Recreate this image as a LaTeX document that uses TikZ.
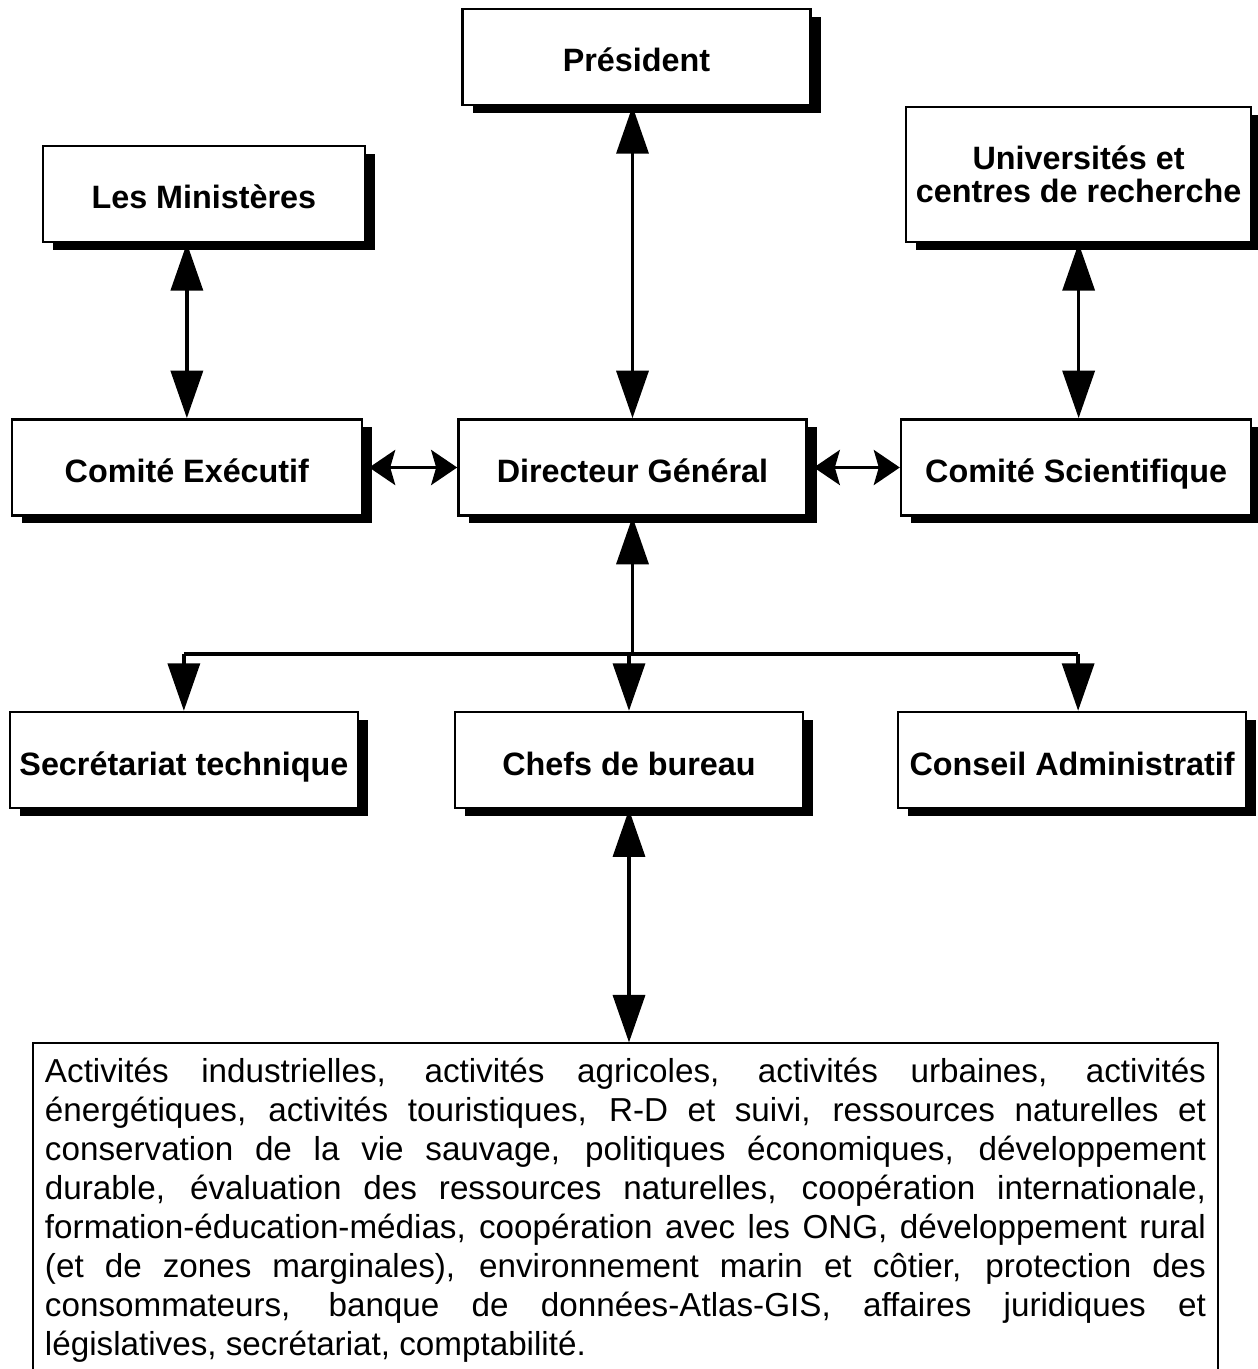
\documentclass[tikz,border=0pt]{standalone}
\usepackage{fontspec}
\setmainfont{Liberation Sans}
\usepackage{tikz}
\usetikzlibrary{arrows.meta, positioning, shadows, calc}

\begin{document}
\begin{tikzpicture}[
    node distance=1.5cm,
    every node/.style={font=\fontsize{18.4}{19.5}\selectfont\bfseries},
    unit/.style={rectangle, minimum width=6.96cm, minimum height=1.92cm, inner sep=0pt, text centered, draw=black, fill=white, line width=1.5pt,
        drop shadow={shadow xshift=0.2cm, shadow yshift=-0.16cm, fill=black, opacity=1}},
    unitone/.style={unit, text height=17.2pt, text depth=0pt},
    vlink/.style={{Triangle[width=0.64cm,length=0.95cm]}-{Triangle[width=0.64cm,length=0.95cm]}, line width=2pt},
    hlink/.style={{Stealth[width=0.7cm,length=0.52cm,inset=0.1cm]}-{Stealth[width=0.7cm,length=0.52cm,inset=0.1cm]}, line width=2pt},
    downlink/.style={-{Triangle[width=0.64cm,length=0.95cm]}, line width=2pt},
    buslink/.style={line width=2pt}
]
\useasboundingbox (0,0) rectangle (25.16,27.38);

\node[unitone] (dg) at (12.65,18.03) {Directeur Général};

\node[unitone, above=6.24cm of dg, xshift=0.08cm] (pres) {Président};

\node[unitone, minimum width=7cm, left=1.88cm of dg] (exec) {Comité Exécutif};

\node[unitone, minimum width=7cm, right=1.84cm of dg] (sci) {Comité Scientifique};

\node[unitone, minimum width=6.44cm, above=3.5cm of exec, xshift=0.34cm] (min) {Les Ministères};

\node[unit, minimum width=6.9cm, minimum height=2.7cm, above=3.5cm of sci, xshift=0.05cm] (univ) {\raisebox{-0.04cm}{\parbox{6.8cm}{\centering\fontsize{18.4}{18.6}\selectfont\bfseries Universités et\\centres de recherche}}};

\node[unitone, below=3.88cm of dg, xshift=-0.07cm] (chefs) {Chefs de bureau};

\node[unitone, below=3.88cm of exec, xshift=-0.06cm] (sec) {Secrétariat technique};

\node[unitone, below=3.88cm of sci, xshift=-0.08cm] (cons) {Conseil Administratif};

\node[draw, line width=1.1pt, below=4.66cm of chefs, xshift=-0.07cm,
      text width=23.22cm, inner xsep=0.24cm, inner ysep=0.3cm, align=justify,
      font=\fontsize{18.9}{22.2}\selectfont] (acts) {\spaceskip=0pt\xspaceskip=0pt%
\makebox[\linewidth][s]{Activités industrielles, activités agricoles, activités urbaines, activités}\\
\makebox[\linewidth][s]{énergétiques, activités touristiques, R-D et suivi, ressources naturelles et}\\
\makebox[\linewidth][s]{conservation de la vie sauvage, politiques économiques, développement}\\
\makebox[\linewidth][s]{durable, évaluation des ressources naturelles, coopération internationale,}\\
\makebox[\linewidth][s]{formation-éducation-médias, coopération avec les ONG, développement rural}\\
\makebox[\linewidth][s]{(et de zones marginales), environnement marin et côtier, protection des}\\
\makebox[\linewidth][s]{consommateurs, banque de données-Atlas-GIS, affaires juridiques et}\\
législatives, secrétariat, comptabilité.};

% liens
\draw[vlink] (dg.north) -- (dg.north |- pres.south);
\draw[vlink] (exec.north) -- (exec.north |- min.south);
\draw[vlink] (sci.north -| univ.south) -- (univ.south);
\draw[hlink] (exec.east) ++(0.12,0) -- (dg.west);
\draw[hlink] (dg.east) ++(0.12,0) -- (sci.west);

\coordinate[below=2.74cm of dg.south] (bus);
\draw[downlink] (bus) -- (dg.south);
\draw[buslink] (sec.north |- bus) -- ($(cons.north |- bus)+(0.12,0)$);
\draw[downlink] (sec.north |- bus) -- (sec.north);
\draw[downlink] (chefs.north |- bus) -- (chefs.north);
\draw[downlink] ($(cons.north |- bus)+(0.12,0)$) -- ($(cons.north)+(0.12,0)$);

\draw[vlink] (chefs.south) -- (chefs.south |- acts.north);

\end{tikzpicture}
\end{document}
